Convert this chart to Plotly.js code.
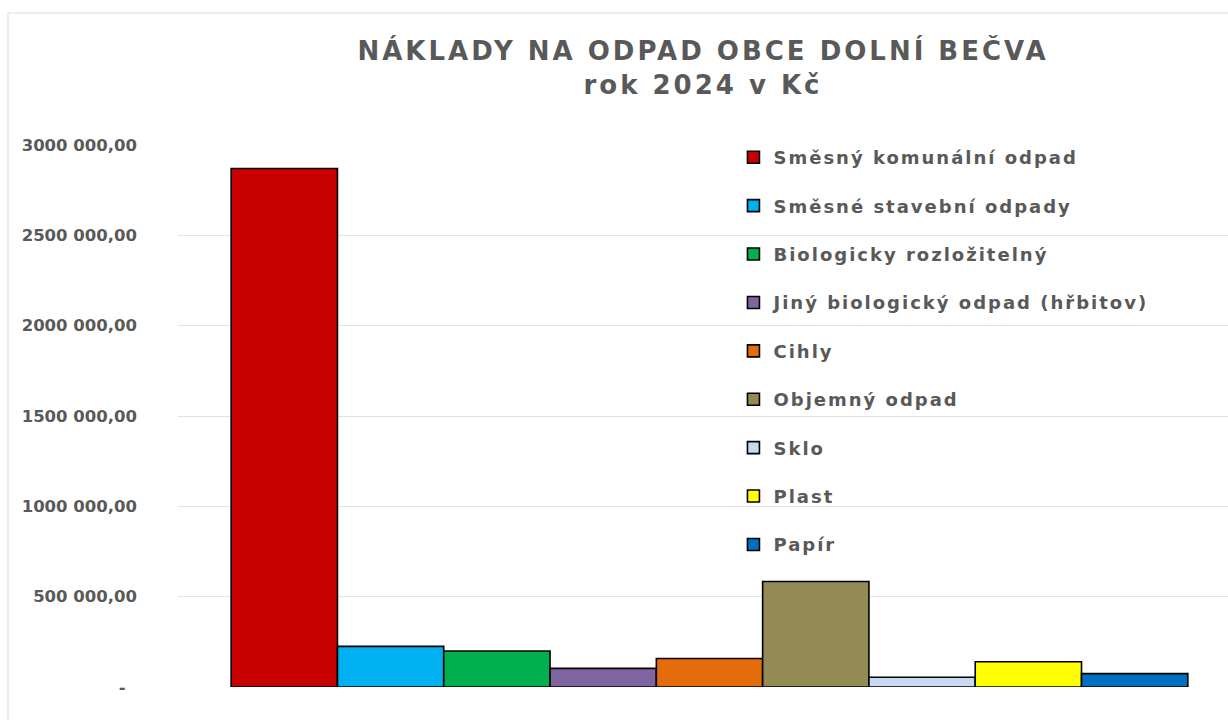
<!DOCTYPE html>
<html>
<head>
<meta charset="utf-8">
<script src="https://cdn.plot.ly/plotly-3.0.1.min.js"></script>
<style>
  html, body { margin: 0; padding: 0; background: #fff; }
  #chart { width: 1228px; height: 720px; }
  .gtitle { letter-spacing: 3px; }
  .legendtext { letter-spacing: 2px; }
</style>
</head>
<body>
<div id="chart"></div>
<script>
const categories = [
  "Směsný komunální odpad",
  "Směsné stavební odpady",
  "Biologicky rozložitelný",
  "Jiný biologický odpad (hřbitov)",
  "Cihly",
  "Objemný odpad",
  "Sklo",
  "Plast",
  "Papír"
];
const values = [2870000, 225000, 199000, 103000, 158000, 584000, 54000, 140000, 74000];
const colors = ["#C80000", "#00B0F0", "#00B050", "#8064A2", "#E46C0A", "#948A54", "#C6D9F1", "#FFFF00", "#0070C0"];
const tickVals = [0, 500000, 1000000, 1500000, 2000000, 2500000, 3000000];
const tickText = ["-\u00a0\u00a0", "500 000,00", "1000 000,00", "1500 000,00", "2000 000,00", "2500 000,00", "3000 000,00"];
const groupLabel = ["2024"];

const fontFam = "DejaVu Sans, Arial, sans-serif";
const gray = "#595959";

const traces = categories.map((name, i) => ({
  type: "bar",
  name: name,
  x: groupLabel,
  y: [values[i]],
  legendgroup: "g" + i,
  marker: { color: colors[i], line: { color: "#000000", width: 1.6 } },
  hoverinfo: "name+y"
}));

const layout = {
  width: 1228,
  height: 720,
  paper_bgcolor: "#ffffff",
  plot_bgcolor: "#ffffff",
  margin: { l: 178, r: 0, t: 145, b: 33, pad: 0 },
  title: {
    text: "NÁKLADY NA ODPAD OBCE DOLNÍ BEČVA<br>rok 2024 v Kč",
    font: { family: fontFam, size: 26, color: gray, weight: "bold" },
    x: 0.5,
    xref: "paper",
    xanchor: "center",
    y: 0.916,
    yanchor: "top"
  },
  barmode: "group",
  bargap: 0.1,
  bargroupgap: 0,
  showlegend: true,
  legend: {
    x: 0.529,
    xanchor: "left",
    y: 1.011,
    yanchor: "top",
    bgcolor: "rgba(0,0,0,0)",
    font: { family: fontFam, size: 18, color: gray, weight: "bold" },
    tracegroupgap: 22,
    traceorder: "grouped",
    maxheight: 700,
    itemclick: false
  },
  xaxis: {
    type: "category",
    range: [-0.5, 0.4878],
    showticklabels: false,
    showgrid: false,
    zeroline: false,
    showline: false,
    ticks: ""
  },
  yaxis: {
    range: [0, 3000000],
    tickvals: tickVals,
    ticktext: tickText,
    tickfont: { family: fontFam, size: 16.5, color: gray, weight: "bold" },
    showgrid: true,
    gridcolor: "#E3E3E3",
    gridwidth: 1,
    zeroline: false,
    showline: false,
    ticks: "",
    ticklabelstandoff: 40
  },
  shapes: [{
    type: "rect",
    xref: "paper",
    yref: "paper",
    x0: (8 - 178) / 1050,
    x1: 1.05,
    y0: -0.2,
    y1: 1 + (145 - 13) / 542,
    line: { color: "#D9D9D9", width: 1 },
    fillcolor: "rgba(0,0,0,0)",
    layer: "below"
  }]
};

Plotly.newPlot("chart", traces, layout, { displayModeBar: false });
</script>
</body>
</html>
